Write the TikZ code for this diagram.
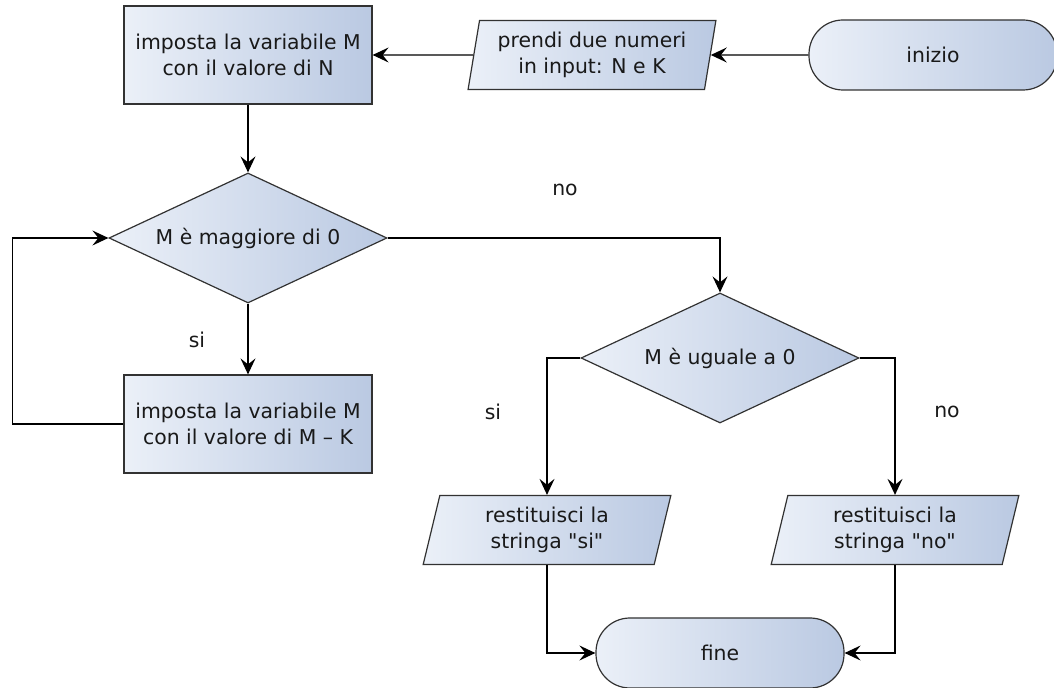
\documentclass[tikz,border=0pt]{standalone}
\usepackage{fontspec}
\setmainfont{DejaVu Sans}[Ligatures=TeXOff]
\usetikzlibrary{shapes,shapes.geometric,arrows.meta,positioning,calc}
\definecolor{boxlight}{RGB}{235,240,248}
\definecolor{boxdark}{RGB}{186,201,226}
\definecolor{boxline}{RGB}{50,50,50}
\definecolor{txt}{RGB}{25,25,25}
\tikzstyle{flowbase}=[draw=boxline,line width=0.6pt,left color=boxlight,right color=boxdark,align=center,inner sep=0pt,text=txt]
\tikzstyle{Pstate}=[flowbase,shape=rectangle,minimum width=124pt,minimum height=49pt]
\tikzstyle{Tstate}=[flowbase,shape=rectangle,rounded corners=17pt,minimum width=124pt,minimum height=35pt]
\tikzstyle{IOstate}=[flowbase,shape=trapezium,trapezium left angle=78,trapezium right angle=102,trapezium stretches=true,minimum width=124pt,minimum height=34.5pt]
\tikzstyle{Cstate}=[flowbase,shape=diamond,aspect=2.2,minimum width=139pt,minimum height=65pt]
\tikzstyle{flowedge}=[-{Stealth[length=8pt,width=7.5pt,inset=3pt]},line width=0.65pt,black]
\tikzstyle{answer}=[text=txt,inner sep=1pt]

\begin{document}
\begin{tikzpicture}[x=0.5pt,y=-0.5pt,every node/.style={font=\fontsize{10.2}{12.7}\selectfont}]

\useasboundingbox (0,0) rectangle (1054,688);

\node[Tstate] (START) at (933,55) {inizio};
\node[IOstate] (IN) at (592,55) {prendi due numeri\\in input: N e K};
\node[Pstate] (SETN) at (248,55) {imposta la variabile M\\con il valore di N};

\node[Cstate] (GT) at (248,238) {M è maggiore di 0};
\node[Pstate] (SETMK) at (248,424) {imposta la variabile M\\con il valore di M – K};

\node[Cstate] (EQ) at (720,358) {M è uguale a 0};
\node[IOstate] (OUTSI) at (547,530) {restituisci la\\stringa "si"};
\node[IOstate] (OUTNO) at (895,530) {restituisci la\\stringa "no"};

\node[Tstate] (END) at (720,653) {fine};

% etichette delle uscite
\node[answer] (GTNO) at (565,190) {no};
\node[answer] (GTSI) at (197,340) {si};
\node[answer] (EQSI) at (493,412) {si};
\node[answer] (EQNO) at (947,412) {no};

\path
(START) edge [flowedge] (IN)
(IN) edge [flowedge] (SETN)
(SETN) edge [flowedge] (GT)
(GT) edge [flowedge] (SETMK);

\draw[flowedge] (GT.east) -| (EQ.north);
\draw[flowedge] (SETMK.west) -- ++(-111,0) |- (GT.west);
\draw[flowedge] (EQ.west) -| (OUTSI.north);
\draw[flowedge] (EQ.east) -| (OUTNO.north);
\draw[flowedge] (OUTSI.south) |- (END.west);
\draw[flowedge] (OUTNO.south) |- (END.east);

\end{tikzpicture}
\end{document}
